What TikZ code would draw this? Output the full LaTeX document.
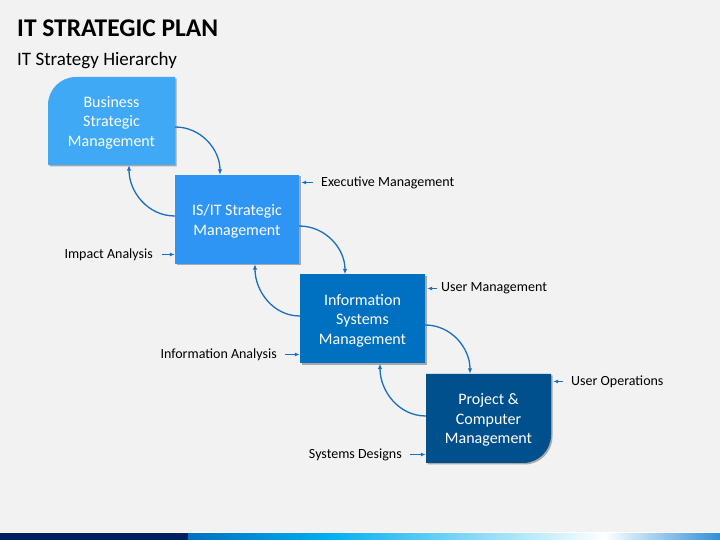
\documentclass[tikz,border=0pt]{standalone}
\usepackage{fontspec}
\setmainfont{Carlito}
\usetikzlibrary{arrows.meta,calc,shadows}
\definecolor{bg}{HTML}{F2F2F2}
\definecolor{cA}{HTML}{40A9F6}
\definecolor{cB}{HTML}{2F95F4}
\definecolor{cC}{HTML}{0070C0}
\definecolor{cD}{HTML}{00508E}
\definecolor{arr}{HTML}{1B6FC0}
\definecolor{navy}{HTML}{002060}
\definecolor{cyanb}{HTML}{00B0F0}
\definecolor{endb}{HTML}{2E8FD8}
\begin{document}
\begin{tikzpicture}[x=1pt,y=1pt,
  boxshape/.style={minimum width=125pt,minimum height=89pt,inner sep=0pt},
  boxtxt/.style={inner sep=0pt,align=center,text=white,yshift=-1.8pt,font=\fontsize{16}{19.5}\selectfont},
  shd/.style={drop shadow={shadow xshift=1.5pt,shadow yshift=-1.5pt,opacity=0.3,fill=black}},
  lab/.style={inner sep=0pt,font=\fontsize{14}{16}\selectfont,text=black},
  carr/.style={draw=arr,line width=1.3pt,-{Latex[length=5.5pt,width=4.5pt]}},
  sarr/.style={draw=arr,line width=1.1pt,-{Latex[length=5pt,width=4pt]}}]
\useasboundingbox (0,0) rectangle (720,540);
\fill[bg] (0,0) rectangle (720,540);
% bottom bar
\fill[navy] (0,0) rectangle (188,7);
\shade[left color=cC,right color=cyanb] (188,0) rectangle (330,7);
\shade[left color=cyanb,right color=white] (329.5,0) rectangle (605,7);
\shade[left color=white,right color=endb] (604.5,0) rectangle (720,7);
\fill[white] (0,7) rectangle (720,8);
% titles
\node[anchor=base west,inner sep=0pt,font=\fontsize{25.5}{30}\selectfont\bfseries] (title) at (17,503.5) {IT STRATEGIC PLAN};
\node[anchor=base west,inner sep=0pt,font=\fontsize{19}{23}\selectfont] (sub) at (17,474) {IT Strategy Hierarchy};
% boxes
\fill[cA,shd] (48,375) -- (48,435) arc[start angle=180,end angle=90,radius=28] -- (175,463) -- (175,375) -- cycle;
\fill[cD,shd] (426,77) -- (426,166) -- (551,166) -- (551,105) arc[start angle=0,end angle=-90,radius=28] -- cycle;
\node[boxshape,minimum width=127pt,minimum height=88pt,label={[boxtxt]center:{Business\\Strategic\\Management}}] (b1) at (111.5,419) {};
\node[boxshape,fill=cB,shd,minimum width=124pt,label={[boxtxt]center:{IS/IT Strategic\\Management}}] (b2) at (237,320.5) {};
\node[boxshape,fill=cC,shd,label={[boxtxt]center:{Information\\Systems\\Management}}] (b3) at (362.5,221) {};
\node[boxshape,label={[boxtxt]center:{Project \&\\Computer\\Management}}] (b4) at (488.5,121.5) {};
% curved connectors
\draw[carr] ([yshift=-6pt]b1.east) to[out=0,in=90] ([xshift=-17pt]b2.north);
\draw[carr] ([yshift=3.5pt]b2.west) to[out=180,in=-90] ([xshift=17.5pt]b1.south);
\draw[carr] ([yshift=-6.5pt]b2.east) to[out=0,in=90] ([xshift=-17.5pt]b3.north);
\draw[carr] ([yshift=3pt]b3.west) to[out=180,in=-90] ([xshift=18pt]b2.south);
\draw[carr] ([yshift=-6pt]b3.east) to[out=0,in=90] ([xshift=-18.5pt]b4.north);
\draw[carr] ([yshift=2.5pt]b4.west) to[out=180,in=-90] ([xshift=17.5pt]b3.south);
% labels
\node[lab,anchor=west] (lexec) at (321,357.5) {Executive Management};
\node[lab,anchor=east] (limp) at (153,285.5) {Impact Analysis};
\node[lab,anchor=west] (luser) at (441,251.5) {User Management};
\node[lab,anchor=east] (linfo) at (277,185.5) {Information Analysis};
\node[lab,anchor=west] (lops) at (571,158.5) {User Operations};
\node[lab,anchor=east] (lsys) at (402,85.5) {Systems Designs};
\draw[sarr] ([xshift=-8pt]lexec.west) -- ([xshift=2pt]b2.east |- lexec.west);
\draw[sarr] ([xshift=9pt]limp.east) -- (b2.west |- limp.east);
\draw[sarr] ([xshift=-4pt]luser.west) -- ([xshift=2pt]b3.east |- luser.west);
\draw[sarr] ([xshift=8pt]linfo.east) -- (b3.west |- linfo.east);
\draw[sarr] ([xshift=-8pt]lops.west) -- ([xshift=2pt]b4.east |- lops.west);
\draw[sarr] ([xshift=8pt]lsys.east) -- (b4.west |- lsys.east);
\end{tikzpicture}
\end{document}
